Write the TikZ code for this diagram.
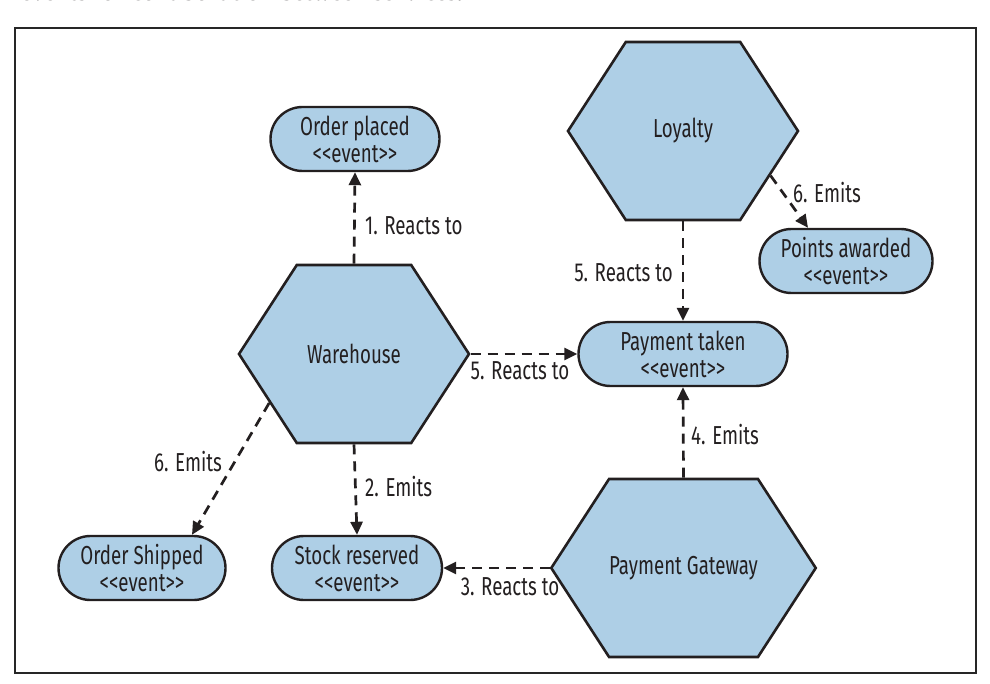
\documentclass[tikz,border=0pt]{standalone}
\usepackage{fontspec}
\setmainfont{Fira Sans}[FakeStretch=0.72]
\newfontfamily\bodyfont{Liberation Serif}
\usetikzlibrary{shapes.symbols,shapes.misc,arrows.meta}
\definecolor{evblue}{RGB}{174,207,230}
\definecolor{ink}{RGB}{35,31,32}
\newcommand{\evtag}{<{}<event>{}>}
\tikzset{
  service/.style={signal, signal to=west and east, signal pointer angle=114,
    draw=ink, line width=2.6pt, fill=evblue, inner sep=0pt,
    minimum width=230pt, minimum height=178pt, text=ink,
    font=\fontsize{26}{27}\selectfont},
  event/.style={rounded rectangle, draw=ink, line width=2.4pt, fill=evblue,
    align=center, inner sep=0pt, minimum height=64pt, text=ink,
    font=\fontsize{26}{27}\selectfont},
  flow/.style={ink, dash pattern=on 10pt off 7pt, line width=2.7pt,
    -{Triangle[length=13pt,width=12pt]}},
  lbl/.style={text=ink, inner sep=0pt, font=\fontsize{26}{27}\selectfont}
}
\begin{document}
\begin{tikzpicture}[x=1pt,y=-1pt]
    \useasboundingbox (0,0) rectangle (990,684);
    \node[font=\bodyfont\bfseries\fontsize{25}{29}\selectfont, anchor=base west, text=ink] (caption) at (17,0.5) {events for collaboration between services.};
    \draw[line width=1.3pt, black!85] (15,28) rectangle (976,673);
    % services
    \node[service] (Loyalty) at (683,131) {Loyalty};
    \node[service] (Warehouse) at (354,354) {Warehouse};
    \node[service] (Gateway) at (683.5,568) {Payment Gateway};
    % events
    \node[event, minimum width=169pt] (placed) at (355,139) {Order placed\\\evtag};
    \node[event, minimum width=173pt] (points) at (846,261) {Points awarded\\\evtag};
    \node[event, minimum width=209pt] (taken) at (683,354) {Payment taken\\\evtag};
    \node[event, minimum width=167pt] (shipped) at (142,568) {Order Shipped\\\evtag};
    \node[event, minimum width=170pt] (stock) at (357,568) {Stock reserved\\\evtag};
    % flows
    \draw[flow] (Warehouse.north) -- (placed.south);
    \draw[flow] (Warehouse.south) -- (stock.north);
    \draw[flow] (Gateway.west) -- (stock.east);
    \draw[flow] (Gateway.north) -- (taken.south);
    \draw[flow] (Warehouse.east) -- (taken.west);
    \draw[flow] (Loyalty.south) -- (taken.north);
    \draw[flow] (Loyalty.333) -- ([xshift=-38pt]points.north);
    \draw[flow] (Warehouse.210) -- ([xshift=50pt]shipped.north);
    % labels
    \node[lbl, anchor=west] (l1) at (365,226) {1. Reacts to};
    \node[lbl, anchor=west] (l2) at (365,487) {2. Emits};
    \node[lbl] (l3) at (510,587) {3. Reacts to};
    \node[lbl, anchor=west] (l4) at (691,435) {4. Emits};
    \node[lbl] (l5a) at (520,371) {5. Reacts to};
    \node[lbl, anchor=east] (l5b) at (673,273) {5. Reacts to};
    \node[lbl, anchor=west] (l6a) at (793,193) {6. Emits};
    \node[lbl] (l6b) at (188,462) {6. Emits};
\end{tikzpicture}
\end{document}
